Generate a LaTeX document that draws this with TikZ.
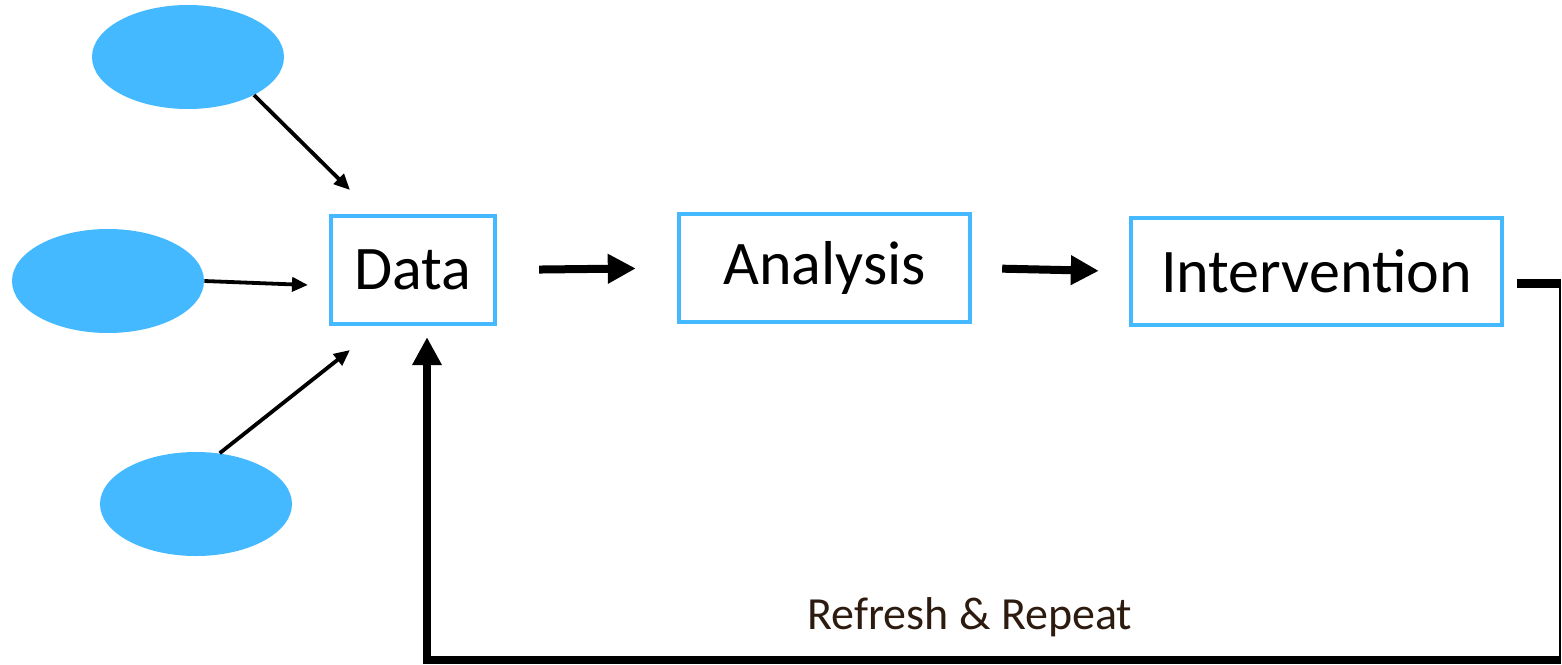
\documentclass[tikz,border=0pt]{standalone}
\usepackage{fontspec}
\setmainfont{Carlito}
\usetikzlibrary{shapes.geometric,arrows.meta}
\definecolor{boxblue}{HTML}{45B9FF}
\definecolor{txtbrown}{HTML}{2E1B0F}
\tikzset{
  src/.style={ellipse, fill=boxblue, draw=none, minimum width=96pt, minimum height=52pt, inner sep=0pt},
  stage/.style={draw=boxblue, line width=2.2pt, fill=white, inner sep=0pt, minimum height=54pt, font=\fontsize{31}{36}\selectfont},
  thinarrow/.style={line width=1.9pt, -{Triangle[length=8pt,width=7pt]}},
  thickarrow/.style={line width=4pt, -{Triangle[length=14pt,width=14pt]}},
}
\begin{document}
\begin{tikzpicture}[x=0.5pt,y=-0.5pt]
\useasboundingbox (0,0) rectangle (1562,664);
% sources
\node[src] (e1) at (188,57) {};
\node[src] (e2) at (108,281) {};
\node[src] (e3) at (196,504) {};
% stages
\node[stage, minimum width=82pt] (data) at (413,270) {Data};
\node[stage, minimum width=145.5pt] (ana) at (824.5,268) {Analysis};
\node[stage, minimum width=185.5pt, minimum height=53.5pt] (int) at (1316.5,271.5) {Intervention};
% free ends of source arrows
\coordinate (t1) at (350,190);
\coordinate (t2) at (308,285);
\coordinate (t3) at (350,350);
\draw[thinarrow] (e1.-30) -- (t1);
\draw[thinarrow] (e2.east) -- (t2);
\draw[thinarrow] (e3.65) -- (t3);
% main flow
\draw[thickarrow, shorten <=21pt, shorten >=20.5pt] (data.east) -- (ana.west);
\draw[thickarrow, shorten <=15pt, shorten >=15pt] (ana.east) -- (int.west);
% feedback loop
\coordinate (c1) at (1560,283);
\coordinate (c2) at (1560,660);
\coordinate (c3) at (427,660);
\draw[line width=4.5pt, shorten <=6.5pt] (c1 -| int.east) -- ([xshift=0.5pt]c1);
\draw[line width=1pt] (c1) -- (c2);
\draw[thickarrow, shorten >=5.5pt] ([xshift=0.5pt]c2) -- (c3) -- (c3 |- data.south);
\node[text=txtbrown, font=\fontsize{23}{27}\selectfont] (lbl) at (970,617) {Refresh \& Repeat};
\end{tikzpicture}
\end{document}
